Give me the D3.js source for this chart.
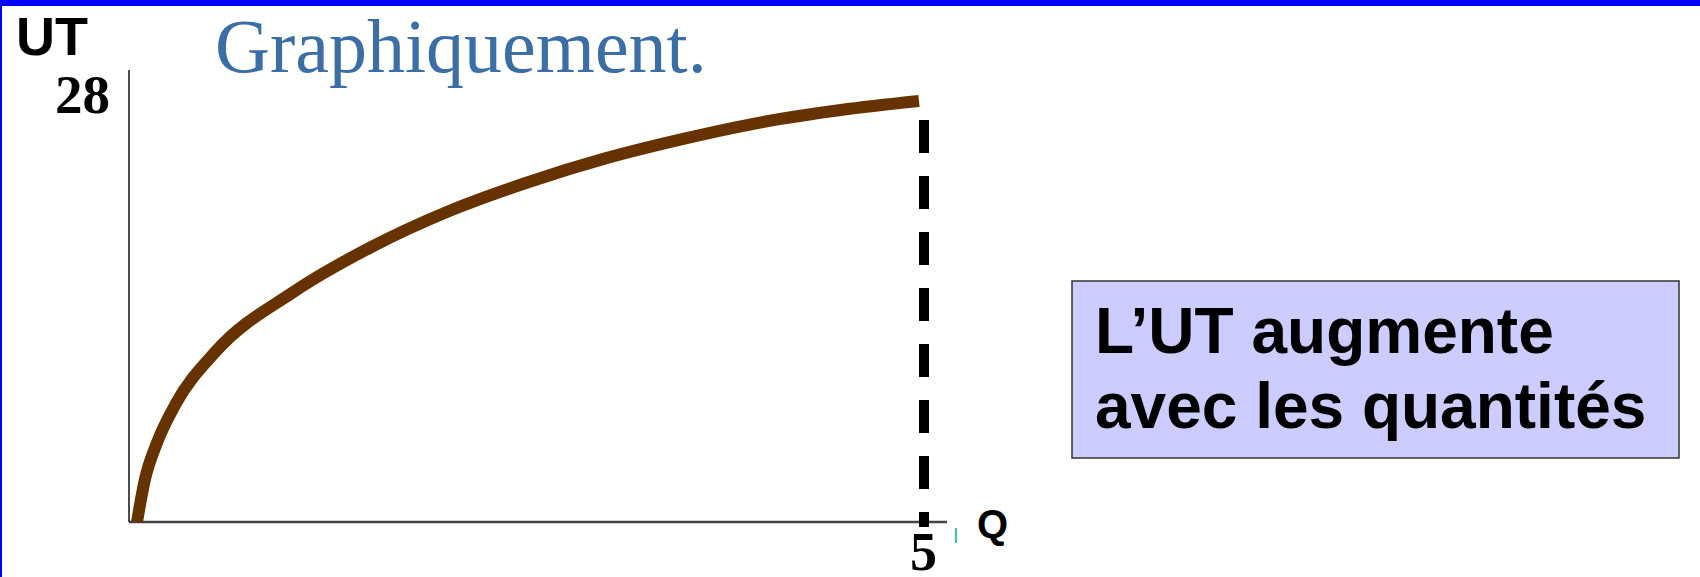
<!DOCTYPE html>
<html>
<head>
<meta charset="utf-8">
<script src="https://cdn.jsdelivr.net/npm/d3@7"></script>
<style>
  html, body { margin: 0; padding: 0; background: #fff; }
  svg { display: block; }
</style>
</head>
<body>
<svg id="svg"></svg>
<script>
const quantities = [0, 0.05, 0.125, 0.25, 0.5, 1, 1.5, 2, 2.5, 3, 3.5, 4, 4.5, 5]
const utilities = [0, 2.8, 5.2, 7.9, 11.3, 15.3, 18.3, 20.7, 22.6, 24.2, 25.5, 26.6, 27.4, 28]
const xTicks = [5]
const yTicks = [28]
const title = 'Graphiquement.'
const yLabel = 'UT'
const xLabel = 'Q'
const boxLines = ['L\u2019UT augmente', 'avec les quantités']

const width = 1700
const height = 577

const svg = d3.select('#svg')
  .attr('width', width)
  .attr('height', height)

// frame: blue band on top and left
svg.append('rect').attr('x', 0).attr('y', 0).attr('width', width).attr('height', 6).attr('fill', '#0000ff')
svg.append('rect').attr('x', 0).attr('y', 0).attr('width', 2).attr('height', height).attr('fill', '#0000ff')

const x = d3.scaleLinear().domain([0, 5]).range([137, 919])
const y = d3.scaleLinear().domain([0, 28]).range([522, 101])

const axisX = 129
const axisY = y(0)

// axis lines
svg.append('line')
  .attr('x1', axisX).attr('x2', x(5) + 28)
  .attr('y1', axisY).attr('y2', axisY)
  .attr('stroke', '#444').attr('stroke-width', 2.5)

svg.append('line')
  .attr('x1', axisX).attr('x2', axisX)
  .attr('y1', axisY).attr('y2', y(28) - 31)
  .attr('stroke', '#111').attr('stroke-width', 1.5)

// tick labels via d3 axes
const gx = svg.append('g')
  .attr('transform', `translate(0, ${axisY})`)
  .call(d3.axisBottom(x).tickValues(xTicks).tickFormat(d3.format('d')).tickSize(0).tickPadding(10))
gx.select('.domain').remove()
gx.selectAll('text')
  .attr('dx', 4)
  .style('font-family', '"Liberation Serif", "Times New Roman", serif')
  .style('font-weight', 'bold')
  .style('font-size', '54px')
  .style('fill', '#000')

const gy = svg.append('g')
  .attr('transform', `translate(${axisX}, 0)`)
  .call(d3.axisLeft(y).tickValues(yTicks).tickFormat(d3.format('d')).tickSize(0).tickPadding(19))
gy.select('.domain').remove()
gy.selectAll('text')
  .attr('dy', '0.2em')
  .style('font-family', '"Liberation Serif", "Times New Roman", serif')
  .style('font-weight', 'bold')
  .style('font-size', '55px')
  .style('fill', '#000')

// dashed drop line at Q = 5
svg.append('line')
  .attr('x1', x(5) + 5).attr('x2', x(5) + 5)
  .attr('y1', 120).attr('y2', axisY + 5)
  .attr('stroke', '#000')
  .attr('stroke-width', 10)
  .attr('stroke-dasharray', '33,23')

// utility curve
const line = d3.line()
  .x((d, i) => x(quantities[i]))
  .y(d => y(d))
  .curve(d3.curveMonotoneX)

svg.append('path')
  .datum(utilities)
  .attr('d', line)
  .attr('fill', 'none')
  .attr('stroke', '#663300')
  .attr('stroke-width', 12)

// small green mark near the x axis end
svg.append('line')
  .attr('x1', 956).attr('x2', 956)
  .attr('y1', 528).attr('y2', 543)
  .attr('stroke', '#33cc99').attr('stroke-width', 2)

// axis titles
svg.append('text')
  .attr('x', 16).attr('y', 55)
  .text(yLabel)
  .style('font-family', '"Liberation Sans", Arial, sans-serif')
  .style('font-weight', 'bold')
  .style('font-size', '54px')

svg.append('text')
  .attr('x', 977).attr('y', 538)
  .text(xLabel)
  .style('font-family', '"Liberation Sans", Arial, sans-serif')
  .style('font-weight', 'bold')
  .style('font-size', '40px')

// title
svg.append('text')
  .attr('x', 215).attr('y', 72)
  .text(title)
  .style('font-family', '"Liberation Serif", "Times New Roman", serif')
  .style('font-size', '76px')
  .style('fill', '#3a6ea5')

// annotation box
svg.append('rect')
  .attr('x', 1072).attr('y', 281)
  .attr('width', 607).attr('height', 177)
  .attr('fill', '#ccccff')
  .attr('stroke', '#333')
  .attr('stroke-width', 1.5)

svg.append('g')
  .selectAll('text')
  .data(boxLines)
  .join('text')
  .attr('x', 1095)
  .attr('y', (d, i) => 353 + i * 75)
  .text(d => d)
  .style('font-family', '"Liberation Sans", Arial, sans-serif')
  .style('font-weight', 'bold')
  .style('font-size', '64px')
  .style('fill', '#000')
</script>
</body>
</html>
